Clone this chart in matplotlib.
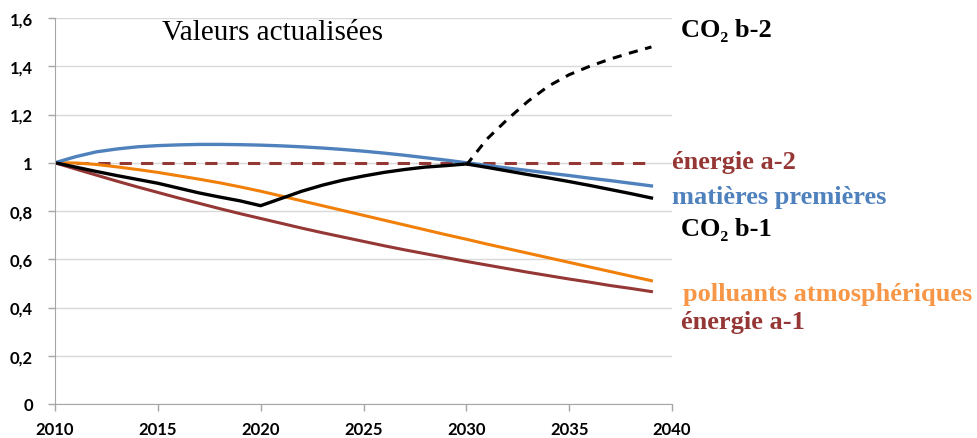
import matplotlib
matplotlib.use("Agg")
import matplotlib.pyplot as plt

years = list(range(2010, 2040))

matieres = [1.0, 1.025, 1.045, 1.057, 1.066, 1.071, 1.074, 1.076, 1.076, 1.075,
            1.073, 1.07, 1.066, 1.061, 1.055, 1.048, 1.04, 1.031, 1.021, 1.011,
            1.0, 0.989, 0.978, 0.968, 0.957, 0.947, 0.936, 0.926, 0.915, 0.904]

energie_a2 = [1.0] * 30

energie_a1 = [1.0, 0.974, 0.949, 0.924, 0.9, 0.877, 0.854, 0.832, 0.81, 0.789,
              0.769, 0.749, 0.729, 0.71, 0.692, 0.674, 0.656, 0.639, 0.623, 0.607,
              0.591, 0.576, 0.561, 0.546, 0.532, 0.518, 0.505, 0.491, 0.479, 0.466]

polluants = [1.0, 0.999, 0.993, 0.983, 0.972, 0.96, 0.946, 0.932, 0.917, 0.9,
             0.882, 0.862, 0.842, 0.822, 0.802, 0.782, 0.762, 0.742, 0.722, 0.702,
             0.683, 0.663, 0.644, 0.625, 0.606, 0.587, 0.568, 0.549, 0.53, 0.511]

co2_b1 = [1.0, 0.982, 0.964, 0.947, 0.931, 0.915, 0.895, 0.875, 0.858, 0.842,
          0.822, 0.852, 0.882, 0.907, 0.928, 0.945, 0.96, 0.972, 0.982, 0.988,
          0.995, 0.981, 0.966, 0.951, 0.937, 0.922, 0.906, 0.889, 0.872, 0.854]

years_b2 = list(range(2030, 2040))
co2_b2 = [0.99, 1.098, 1.18, 1.255, 1.318, 1.365, 1.4, 1.43, 1.456, 1.48]

yticks = [0, 0.2, 0.4, 0.6, 0.8, 1.0, 1.2, 1.4, 1.6]
ytick_labels = ["0", "0,2", "0,4", "0,6", "0,8", "1", "1,2", "1,4", "1,6"]
xticks = [2010, 2015, 2020, 2025, 2030, 2035, 2040]

fig = plt.figure(figsize=(9.77, 4.39), dpi=100)
ax = fig.add_axes([55/977, 34/439, 617/977, 386/439])

ax.plot(years, energie_a2, color="#953735", lw=2.2, dashes=(4, 3))
ax.plot(years, energie_a1, color="#953735", lw=2.2)
ax.plot(years, polluants, color="#F0800A", lw=2.2)
ax.plot(years, matieres, color="#4F81BD", lw=2.4)
ax.plot(years, co2_b1, color="black", lw=2.4)
ax.plot(years_b2, co2_b2, color="black", lw=2.2, dashes=(3, 2.5))

ax.set_xlim(2010, 2040)
ax.set_ylim(0, 1.6)
ax.set_yticks(yticks)
ax.set_yticklabels(ytick_labels)
ax.set_xticks(xticks)
ax.grid(axis="y", color="#D9D9D9", lw=1)
ax.set_axisbelow(True)
for s in ["top", "right"]:
    ax.spines[s].set_visible(False)
for s in ["left", "bottom"]:
    ax.spines[s].set_color("#A6A6A6")
ax.tick_params(axis="both", colors="#A6A6A6", length=5, width=1, labelcolor="black")
ax.tick_params(axis="x", pad=7)
ax.tick_params(axis="y", pad=11)
for lbl in ax.get_xticklabels() + ax.get_yticklabels():
    lbl.set_fontfamily("Lato")
    lbl.set_fontweight("bold")
    lbl.set_fontsize(12)

serif = ["Liberation Serif", "DejaVu Serif"]
fig.text(162/977, 1 - 33/439, "Valeurs actualisées", family=serif, fontsize=21,
         va="center", ha="left")

def lab(x, y, s, c):
    fig.text(x/977, 1 - y/439, s, family=serif, fontsize=19, fontweight="bold",
             color=c, va="center", ha="left")

lab(681, 30, "CO₂ b-2", "black")
lab(672, 163, "énergie a-2", "#953735")
lab(672, 198, "matières premières", "#4F81BD")
lab(681, 230, "CO₂ b-1", "black")
lab(683, 294, "polluants atmosphériques", "#F79646")
lab(681, 323, "énergie a-1", "#953735")

fig.savefig("out.png", dpi=100)
